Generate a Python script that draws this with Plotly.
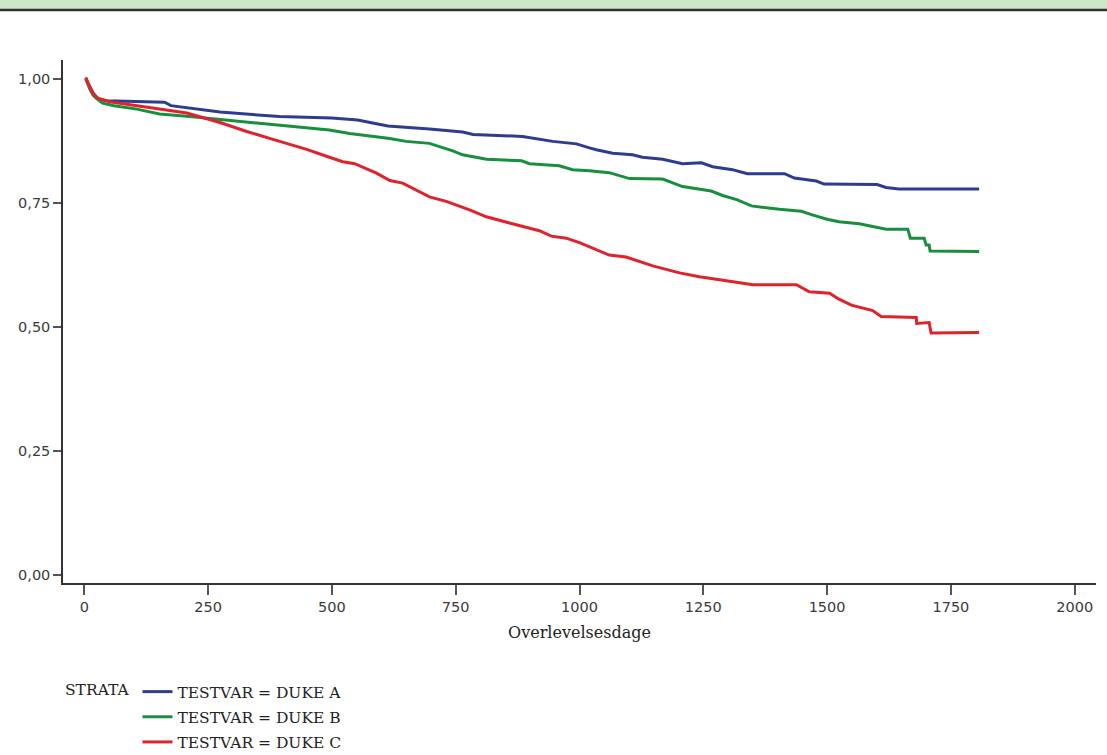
import plotly.graph_objects as go

# ---- data ----
series_names = ["TESTVAR = DUKE A", "TESTVAR = DUKE B", "TESTVAR = DUKE C"]

a_days = [3, 11, 18, 25, 31, 45, 100, 162, 175, 274, 394, 500, 552, 613, 697, 764, 785, 885, 946, 994,
          1020, 1034, 1067, 1107, 1127, 1168, 1208, 1246, 1269, 1309, 1339, 1414, 1434, 1478, 1494,
          1524, 1601, 1619, 1645, 1807]
a_surv = [1.0, 0.984, 0.971, 0.963, 0.959, 0.956, 0.955, 0.953, 0.946, 0.933, 0.924, 0.921, 0.917,
          0.905, 0.899, 0.893, 0.888, 0.884, 0.874, 0.869, 0.861, 0.857, 0.850, 0.847, 0.842, 0.838,
          0.829, 0.831, 0.823, 0.817, 0.809, 0.809, 0.800, 0.794, 0.788, 0.788, 0.787, 0.781, 0.778,
          0.778]

b_days = [3, 11, 18, 25, 37, 60, 106, 152, 213, 314, 394, 495, 536, 617, 650, 697, 744, 764, 812, 883,
          899, 959, 986, 1020, 1060, 1101, 1168, 1208, 1266, 1289, 1319, 1347, 1404, 1448, 1470, 1500,
          1524, 1565, 1619, 1663, 1668, 1696, 1700, 1706, 1708, 1807]
b_surv = [1.0, 0.980, 0.967, 0.960, 0.951, 0.946, 0.939, 0.929, 0.924, 0.914, 0.907, 0.897, 0.890,
          0.880, 0.874, 0.870, 0.855, 0.847, 0.838, 0.835, 0.829, 0.825, 0.817, 0.815, 0.811, 0.799,
          0.798, 0.783, 0.774, 0.765, 0.756, 0.744, 0.737, 0.733, 0.726, 0.717, 0.712, 0.708, 0.697,
          0.697, 0.679, 0.679, 0.665, 0.665, 0.653, 0.652]

c_days = [3, 11, 18, 27, 51, 158, 207, 274, 328, 381, 449, 495, 522, 546, 590, 617, 643, 697, 731, 778,
          812, 872, 919, 943, 973, 1000, 1027, 1060, 1094, 1148, 1202, 1242, 1283, 1350, 1438, 1464,
          1505, 1524, 1549, 1592, 1609, 1680, 1681, 1706, 1710, 1807]
c_surv = [1.003, 0.983, 0.970, 0.961, 0.954, 0.939, 0.931, 0.912, 0.894, 0.878, 0.858, 0.842, 0.833,
          0.829, 0.810, 0.795, 0.790, 0.762, 0.753, 0.736, 0.722, 0.706, 0.694, 0.683, 0.679, 0.670,
          0.659, 0.645, 0.641, 0.623, 0.609, 0.601, 0.595, 0.585, 0.585, 0.571, 0.568, 0.556, 0.544,
          0.533, 0.521, 0.519, 0.507, 0.509, 0.488, 0.489]

x_ticks = [0, 250, 500, 750, 1000, 1250, 1500, 1750, 2000]
x_tick_text = ["0", "250", "500", "750", "1000", "1250", "1500", "1750", "2000"]
y_ticks = [0.0, 0.25, 0.5, 0.75, 1.0]
y_tick_text = ["0,00", "0,25", "0,50", "0,75", "1,00"]

colors = ["#2d3d8e", "#17903d", "#e0222b"]

fig = go.Figure()
for i, (xs, ys) in enumerate([(a_days, a_surv), (b_days, b_surv), (c_days, c_surv)]):
    fig.add_trace(go.Scatter(
        x=xs, y=ys, mode="lines", name=series_names[i],
        legendgroup="g%d" % i,
        line=dict(color=colors[i], width=3),
    ))

fig.update_layout(
    width=1107, height=755,
    margin=dict(l=63, r=11, t=60, b=172, autoexpand=False),
    paper_bgcolor="white", plot_bgcolor="white",
    showlegend=True,
    legend=dict(
        x=0.0, y=-0.176, xanchor="left", yanchor="top",
        title=dict(text="STRATA", side="left",
                   font=dict(family="DejaVu Serif", size=15.5, color="#222")),
        font=dict(family="DejaVu Serif", size=15.5, color="#222"),
        tracegroupgap=2,
        itemwidth=30,
        bgcolor="rgba(0,0,0,0)",
    ),
    xaxis=dict(
        range=[-43, 2043], showgrid=False, zeroline=False,
        showline=True, linecolor="#333", linewidth=1.5,
        ticks="outside", ticklen=10, tickcolor="#555", tickwidth=1.5,
        tickvals=x_ticks, ticktext=x_tick_text,
        tickfont=dict(family="DejaVu Sans", size=14.5, color="#3a3a3a"),
        title=dict(text="Overlevelsesdage", standoff=13,
                   font=dict(family="DejaVu Serif", size=16, color="#222")),
    ),
    yaxis=dict(
        range=[-0.016, 1.038], showgrid=False, zeroline=False,
        showline=True, linecolor="#333", linewidth=1.5,
        ticks="outside", ticklen=8, tickcolor="#555", tickwidth=1.5,
        tickvals=y_ticks, ticktext=y_tick_text,
        tickfont=dict(family="DejaVu Sans", size=14.5, color="#3a3a3a"),
    ),
    shapes=[
        dict(type="rect", xref="paper", yref="paper",
             x0=-0.07, x1=1.02, y0=1.0975, y1=1.13,
             fillcolor="#cde7c9", line=dict(width=0), layer="below"),
        dict(type="line", xref="paper", yref="paper",
             x0=-0.07, x1=1.02, y0=1.0956, y1=1.0956,
             line=dict(color="#333", width=2.5)),
    ],
)

fig.write_html("out.html")
